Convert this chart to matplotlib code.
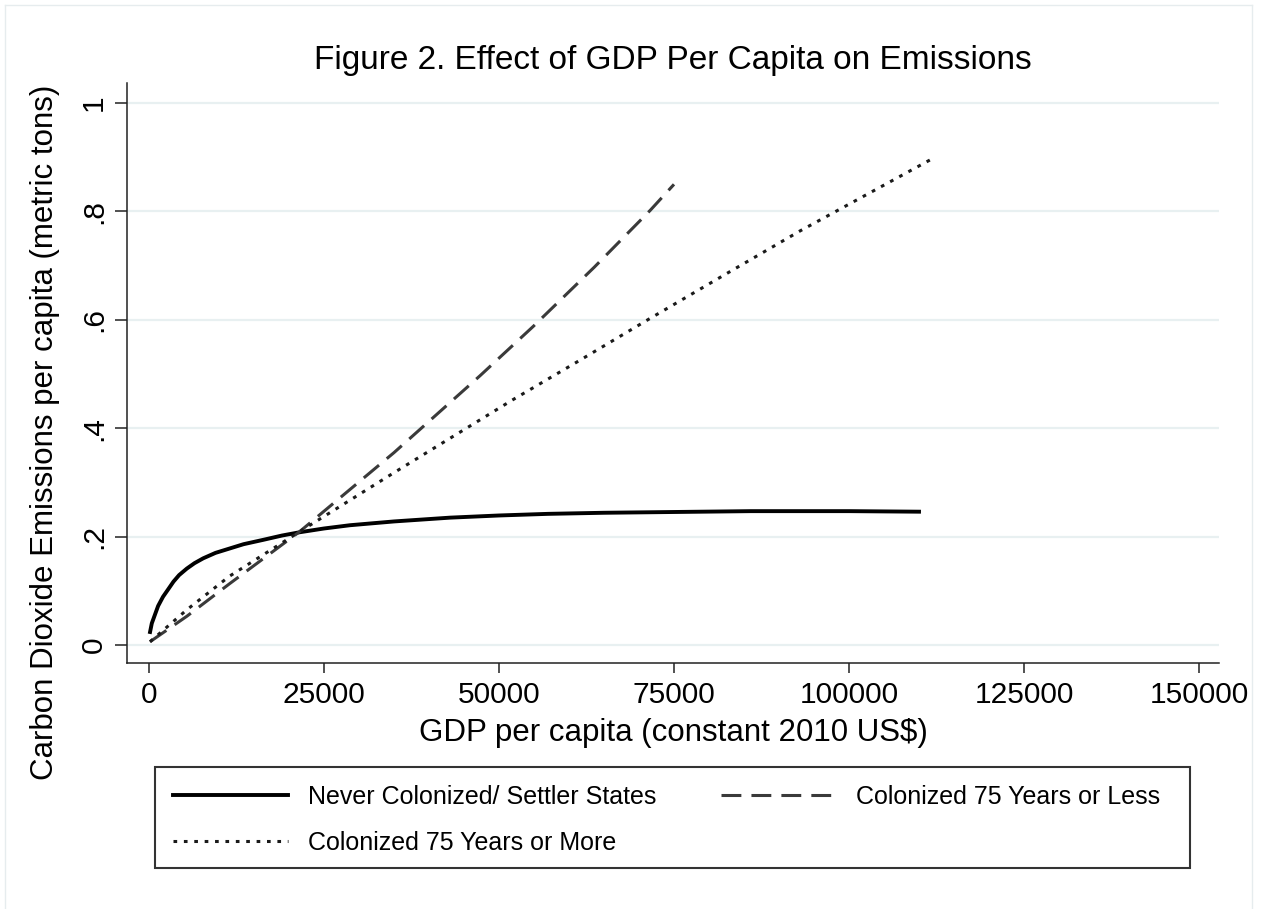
import matplotlib
matplotlib.use('Agg')
from matplotlib import pyplot as plt
from matplotlib.lines import Line2D
from matplotlib.patches import Rectangle

plt.rcParams['font.family'] = ['Liberation Sans', 'DejaVu Sans']

# values
gdp_never = [150, 400, 850, 1300, 2000, 2700, 3500, 4300, 5400, 6500, 7750, 9500,
             11500, 13500, 16300, 19000, 21500, 25000, 28700, 35000, 43000, 50000,
             57000, 65000, 72000, 86000, 100000, 110000]
em_never = [0.024, 0.040, 0.056, 0.072, 0.089, 0.102, 0.117, 0.129, 0.141, 0.151,
            0.160, 0.170, 0.178, 0.186, 0.194, 0.202, 0.208, 0.215, 0.221, 0.228,
            0.235, 0.239, 0.242, 0.244, 0.245, 0.247, 0.247, 0.246]

gdp_less = [143, 5400, 11500, 21500, 35000, 47300, 54900, 63600, 71600, 75000]
em_less = [0.006, 0.053, 0.113, 0.209, 0.355, 0.497, 0.588, 0.697, 0.802, 0.850]

gdp_more = [143, 5400, 11500, 21500, 35000, 51900, 61500, 71500, 83000, 93000, 112000]
em_more = [0.006, 0.065, 0.127, 0.209, 0.318, 0.452, 0.525, 0.602, 0.689, 0.764, 0.898]

xticks = [0, 25000, 50000, 75000, 100000, 125000, 150000]
yticks = [0, 0.2, 0.4, 0.6, 0.8, 1.0]
ytick_labels = ['0', '.2', '.4', '.6', '.8', '1']

labels = ['Never Colonized/ Settler States', 'Colonized 75 Years or Less',
          'Colonized 75 Years or More']

W, H = 1266, 909
fig = plt.figure(figsize=(W / 100, H / 100), dpi=100)
ax = fig.add_axes([127 / W, 1 - 663 / H, (1219 - 127) / W, (663 - 83) / H])

l1, = ax.plot(gdp_never, em_never, color='black', lw=2.8, solid_joinstyle='round')
l2, = ax.plot(gdp_less, em_less, color='#3a3a3a', lw=2.2, dashes=(6.5, 3.3))
l3, = ax.plot(gdp_more, em_more, color='#1a1a1a', lw=2.2, dashes=(1.2, 2.2))

ax.set_xlim(-3143, 152857)
ax.set_ylim(-0.0332, 1.037)
ax.set_xticks(xticks)
ax.set_xticklabels([str(t) for t in xticks])
ax.set_yticks(yticks)
ax.set_yticklabels(ytick_labels, rotation=90, va='center')
ax.tick_params(axis='x', length=7, width=1.1, pad=6, labelsize=21.5, color='#222222')
ax.tick_params(axis='y', length=8.5, width=1.1, pad=5, labelsize=21.5, color='#222222')

ax.grid(axis='y', color='#e8f0f1', lw=1.6)
ax.set_axisbelow(True)
for s in ['top', 'right']:
    ax.spines[s].set_visible(False)
for s in ['left', 'bottom']:
    ax.spines[s].set_linewidth(1.1)
    ax.spines[s].set_color('#222222')

fig.text(673 / W, 1 - 60 / H, 'Figure 2. Effect of GDP Per Capita on Emissions',
         ha='center', va='center', fontsize=24)
fig.text(673 / W, 1 - 733 / H, 'GDP per capita (constant 2010 US$)',
         ha='center', va='center', fontsize=22.5)
fig.text(45 / W, 1 - 432 / H, 'Carbon Dioxide Emissions per capita (metric tons)',
         ha='center', va='center', rotation=90, fontsize=22.5)

# legend frame drawn separately so the box can be wider than its entries
fig.add_artist(Rectangle((155 / W, 1 - 868 / H), 1035 / W, 101 / H,
                         transform=fig.transFigure, fill=False,
                         edgecolor='#333333', lw=1.5))
leg = fig.legend([l1, l3, l2], [labels[0], labels[2], labels[1]], ncol=2,
                 loc='upper left', bbox_to_anchor=(155 / W, 1 - 767 / H),
                 fontsize=18, handlelength=4.6, frameon=False,
                 borderpad=0.7, labelspacing=0.9,
                 handletextpad=0.8, columnspacing=2.6, borderaxespad=0)

# faint outer frame of the graph region
edge = '#e6ecee'
fig.add_artist(Line2D([5 / W, 1252 / W], [1 - 5 / H, 1 - 5 / H], color=edge, lw=1))
fig.add_artist(Line2D([5 / W, 5 / W], [1 - 5 / H, 0], color=edge, lw=1))
fig.add_artist(Line2D([1252 / W, 1252 / W], [1 - 5 / H, 0], color=edge, lw=1))

fig.savefig('out.png', dpi=100)
